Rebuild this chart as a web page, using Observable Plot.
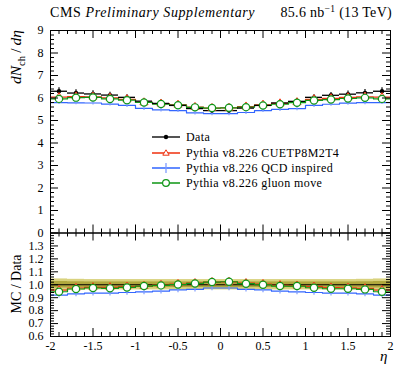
<!DOCTYPE html>
<html><head><meta charset="utf-8">
<script src="https://cdn.jsdelivr.net/npm/d3@7"></script>
<script src="https://cdn.jsdelivr.net/npm/@observablehq/plot@0.6"></script>
<style>
body{margin:0;background:#fff;}
#wrap{position:relative;width:399px;height:365px;font-family:"Liberation Serif","Times New Roman",serif;color:#000;overflow:hidden;}
.abs{position:absolute;white-space:nowrap;line-height:1;}
svg{font-family:"Liberation Serif","Times New Roman",serif;}
</style></head><body><div id="wrap"></div>
<script>
// ---- data ----
const eta = [-1.9,-1.7,-1.5,-1.3,-1.1,-0.9,-0.7,-0.5,-0.3,-0.1,0.1,0.3,0.5,0.7,0.9,1.1,1.3,1.5,1.7,1.9];
const dataVals = [6.30,6.22,6.18,6.13,6.03,5.86,5.76,5.67,5.53,5.44,5.44,5.55,5.67,5.78,5.85,6.03,6.12,6.17,6.23,6.30];
const dataErr = [0.16,0.15,0.14,0.13,0.12,0.11,0.10,0.10,0.09,0.09,0.09,0.09,0.10,0.10,0.11,0.12,0.13,0.14,0.15,0.16];
const ratioCUETP = [0.958,0.975,0.980,0.980,0.985,0.990,0.998,1.005,1.012,1.020,1.022,1.012,1.005,0.996,0.993,0.985,0.978,0.977,0.972,0.958];
const ratioQCD   = [0.920,0.930,0.935,0.935,0.940,0.945,0.950,0.960,0.965,0.975,0.975,0.965,0.960,0.950,0.945,0.940,0.935,0.935,0.930,0.920];
const ratioGluon = [0.946,0.967,0.975,0.972,0.979,0.990,0.995,1.002,1.010,1.021,1.023,1.008,1.000,0.990,0.990,0.977,0.969,0.969,0.964,0.946];
const bandOuter = [0.045,0.042,0.040,0.040,0.040,0.040,0.040,0.040,0.040,0.040,0.040,0.040,0.040,0.040,0.040,0.040,0.040,0.040,0.042,0.045];
const bandInner = [0.025,0.023,0.022,0.022,0.022,0.022,0.022,0.022,0.022,0.022,0.022,0.022,0.022,0.022,0.022,0.022,0.022,0.022,0.023,0.025];
const seriesNames = ["Data","Pythia v8.226 CUETP8M2T4","Pythia v8.226 QCD inspired","Pythia v8.226 gluon move"];
const seriesColors = ["#000000","#EE3311","#3366FF","#109618"];
const xTicks = [-2,-1.5,-1,-0.5,0,0.5,1,1.5,2];
const yTicksTop = [0,1,2,3,4,5,6,7,8,9];
const yTicksRatio = [0.6,0.7,0.8,0.9,1.0,1.1,1.2,1.3];

// ---- derived tables ----
const half = 0.1;
const rows = eta.map((e,i)=>({eta:e, lo:e-half, hi:e+half, v:dataVals[i], err:dataErr[i],
  cu:dataVals[i]*ratioCUETP[i], qcd:dataVals[i]*ratioQCD[i], gl:dataVals[i]*ratioGluon[i],
  rcu:ratioCUETP[i], rqcd:ratioQCD[i], rgl:ratioGluon[i], bo:bandOuter[i], bi:bandInner[i]}));
function steps(key){const p=[];rows.forEach(r=>{p.push({x:r.lo,y:r[key]});p.push({x:r.hi,y:r[key]});});return p;}
const range = (a,b,s)=>{const o=[];for(let k=0;a+k*s<=b+1e-9;k++)o.push(+(a+k*s).toFixed(4));return o;};
const notIn = (arr,majors)=>arr.filter(v=>!majors.some(m=>Math.abs(m-v)<1e-6));
const xMinor = notIn(range(-2,2,0.1),xTicks);
const yMinorTop = notIn(range(0,9,0.2),yTicksTop);
const yMinorRatio = notIn(range(0.6,1.4,0.02),yTicksRatio.concat([1.4]));

const W = 399, ML = 50, MR = 9, FW = W-ML-MR;
const MAJ = 8, MIN = 4;
const [cRed,cBlue,cGreen] = [seriesColors[1],seriesColors[2],seriesColors[3]];
const FONT = "Liberation Serif, Times New Roman, serif";

function frameTicks(FH, yMaj, yMin){
  return [
    Plot.tickY(yMaj,{y:d=>d,insetRight:FW-MAJ,stroke:"black"}),
    Plot.tickY(yMin,{y:d=>d,insetRight:FW-MIN,stroke:"black"}),
    Plot.tickY(yMaj,{y:d=>d,insetLeft:FW-MAJ,stroke:"black"}),
    Plot.tickY(yMin,{y:d=>d,insetLeft:FW-MIN,stroke:"black"}),
    Plot.tickX(xTicks,{x:d=>d,insetBottom:FH-MAJ,stroke:"black"}),
    Plot.tickX(xMinor,{x:d=>d,insetBottom:FH-MIN,stroke:"black"}),
    Plot.tickX(xTicks,{x:d=>d,insetTop:FH-MAJ,stroke:"black"}),
    Plot.tickX(xMinor,{x:d=>d,insetTop:FH-MIN,stroke:"black"}),
    Plot.frame({stroke:"black"})
  ];
}

// ---- top panel ----
const topH = 234, topMT = 30, topMB = 1.5;
const topPlot = Plot.plot({
  width:W, height:topH, marginTop:topMT, marginBottom:topMB, marginLeft:ML, marginRight:MR,
  style:{fontSize:"12px",fontFamily:FONT,background:"transparent",overflow:"visible"},
  x:{domain:[-2,2],axis:null},
  y:{domain:[0,9],ticks:yTicksTop,tickSize:0,tickPadding:7,tickFormat:d=>String(d),label:null},
  marks:[
    Plot.line(steps("qcd"),{x:"x",y:"y",stroke:cBlue,strokeWidth:1.2}),
    Plot.ruleX(rows,{x:"eta",y1:d=>d.qcd-0.09,y2:d=>d.qcd+0.09,stroke:"#7f9cff",strokeWidth:1.2}),
    Plot.line(steps("cu"),{x:"x",y:"y",stroke:cRed,strokeWidth:1.2}),
    Plot.line(steps("gl"),{x:"x",y:"y",stroke:cGreen,strokeWidth:1.2}),
    Plot.ruleY(rows,{y:"v",x1:"lo",x2:"hi",stroke:"black",strokeWidth:1.3}),
    Plot.ruleX(rows,{x:"eta",y1:d=>d.v-d.err,y2:d=>d.v+d.err,stroke:"black",strokeWidth:1.2}),
    Plot.dot(rows,{x:"eta",y:"v",r:2.2,fill:"black"}),
    Plot.dot(rows,{x:"eta",y:"cu",r:3,symbol:"triangle",stroke:cRed,fill:"white",strokeWidth:1}),
    Plot.dot(rows,{x:"eta",y:"gl",r:3.6,stroke:cGreen,fill:"white",strokeWidth:1.2}),
    ...frameTicks(topH-topMT-topMB, yTicksTop, yMinorTop)
  ]
});

// ---- ratio panel ----
const botTop = 232, botH = 133, botMT = 0.5, botMB = 29;
const botPlot = Plot.plot({
  width:W, height:botH, marginTop:botMT, marginBottom:botMB, marginLeft:ML, marginRight:MR,
  style:{fontSize:"12px",fontFamily:FONT,background:"transparent",overflow:"visible"},
  x:{domain:[-2,2],ticks:xTicks,tickSize:0,tickPadding:5,tickFormat:d=>String(d),label:null},
  y:{domain:[0.6,1.4],ticks:yTicksRatio,tickSize:0,tickPadding:7,tickFormat:d=>d.toFixed(1),label:null},
  marks:[
    Plot.rectY(rows,{x1:"lo",x2:"hi",y1:d=>1-d.bo,y2:d=>1+d.bo,fill:"#d9d27e"}),
    Plot.rectY(rows,{x1:"lo",x2:"hi",y1:d=>1-d.bi,y2:d=>1+d.bi,fill:"#b0a83e"}),
    Plot.ruleY([1],{stroke:"black",strokeWidth:1.2}),
    Plot.line(steps("rqcd"),{x:"x",y:"y",stroke:cBlue,strokeWidth:1.2}),
    Plot.ruleX(rows,{x:"eta",y1:d=>d.rqcd-0.022,y2:d=>d.rqcd+0.012,stroke:"#7f9cff",strokeWidth:1.2}),
    Plot.line(steps("rcu"),{x:"x",y:"y",stroke:cRed,strokeWidth:1.2}),
    Plot.line(steps("rgl"),{x:"x",y:"y",stroke:cGreen,strokeWidth:1.2}),
    Plot.dot(rows,{x:"eta",y:"rcu",r:3,symbol:"triangle",stroke:cRed,fill:"white",strokeWidth:1}),
    Plot.dot(rows,{x:"eta",y:"rgl",r:3.6,stroke:cGreen,fill:"white",strokeWidth:1.2}),
    ...frameTicks(botH-botMT-botMB, yTicksRatio, yMinorRatio)
  ]
});

const wrap = document.getElementById("wrap");
topPlot.style.position="absolute"; topPlot.style.left="0px"; topPlot.style.top="0px";
botPlot.style.position="absolute"; botPlot.style.left="0px"; botPlot.style.top=botTop+"px";
wrap.appendChild(botPlot); wrap.appendChild(topPlot);

function addDiv(html, css){const d=document.createElement("div");d.className="abs";d.innerHTML=html;d.style.cssText+=css;wrap.appendChild(d);return d;}
addDiv('CMS <i>Preliminary Supplementary</i>','left:50px;top:6px;font-size:14px;letter-spacing:0.6px;');
addDiv('85.6 nb<sup style="font-size:9.5px;vertical-align:5px;line-height:0">&minus;1</sup> (13 TeV)','right:7px;top:6px;font-size:14px;letter-spacing:0.3px;');
addDiv('<i>dN</i><sub style="font-size:10.5px;line-height:0">ch</sub>&thinsp;/&thinsp;<i>d&eta;</i>','left:16px;top:57px;font-size:15.5px;transform:translate(-50%,-50%) rotate(-90deg);');
addDiv('MC / Data','left:17px;top:284px;font-size:14px;transform:translate(-50%,-50%) rotate(-90deg);');
addDiv('<i>&eta;</i>','left:380px;top:349px;font-size:15px;');

// legend
const legY = [136.7,152.7,168.3,183.3];
const sym = [
  c=>`<circle cx="14" cy="5" r="2.2" fill="${c}"/>`,
  c=>`<path d="M14,1.8 L17.2,7.2 L10.8,7.2 Z" fill="white" stroke="${c}" stroke-width="1"/>`,
  c=>`<line x1="14" y1="0" x2="14" y2="10" stroke="#7f9cff" stroke-width="1.3"/>`,
  c=>`<circle cx="14" cy="5" r="3.4" fill="white" stroke="${c}" stroke-width="1.2"/>`
];
seriesNames.forEach((n,i)=>{
  const c = seriesColors[i];
  const op = i===0?0.75:0.85;
  addDiv(`<svg width="28" height="10" style="position:absolute;left:-34px;top:-5px;overflow:visible"><line x1="0" y1="5" x2="28" y2="5" stroke="${c}" stroke-opacity="${op}" stroke-width="1.8"/>${sym[i](c)}</svg><span style="position:relative;top:-6px">${n}</span>`,
    `left:186px;top:${legY[i]}px;font-size:12px;letter-spacing:0.4px;`);
});
</script></body></html>
